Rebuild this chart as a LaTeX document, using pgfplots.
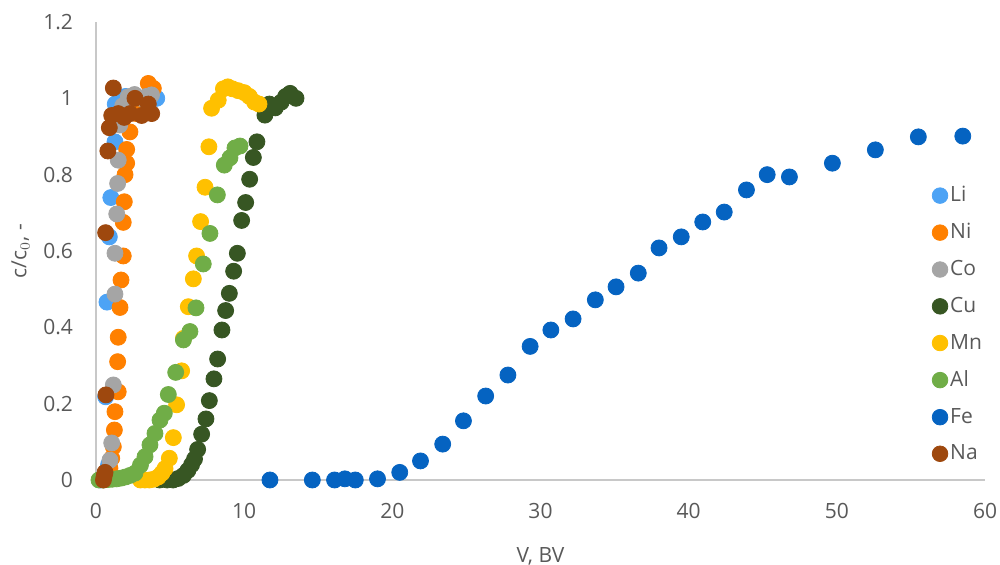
\documentclass[border=0pt]{standalone}
\usepackage{fontspec}
\setmainfont{Open Sans}
\usepackage{pgfplots}
\pgfplotsset{compat=1.18}
\definecolor{cLi}{RGB}{77,163,245}
\definecolor{cNi}{RGB}{255,128,0}
\definecolor{cCo}{RGB}{165,165,165}
\definecolor{cCu}{RGB}{55,86,35}
\definecolor{cMn}{RGB}{255,192,0}
\definecolor{cAl}{RGB}{112,173,71}
\definecolor{cFe}{RGB}{5,99,193}
\definecolor{cNa}{RGB}{158,72,14}
\definecolor{txt}{RGB}{89,89,89}
\definecolor{axl}{RGB}{200,200,200}
\begin{document}
\begin{tikzpicture}
\begin{axis}[
  scale only axis, width=444.5pt, height=229pt,
  xmin=0, xmax=60, ymin=0, ymax=1.2,
  xtick={0,10,...,60}, ytick={0,0.2,0.4,0.6,0.8,1,1.2},
  yticklabels={0,0.2,0.4,0.6,0.8,1,1.2},
  axis lines*=left, axis line style={draw=axl, line width=0.8pt, -},
  major tick length=0pt,
  tick label style={font=\fontsize{10.5}{12}\selectfont, text=txt},
  /pgf/number format/assume math mode=true,
  xticklabel style={yshift=-8pt},
  yticklabel shift=8pt,
  xlabel={V, BV}, ylabel={c/c$_0$, -},
  label style={font=\fontsize{10.5}{12}\selectfont, text=txt},
  xlabel style={yshift=-7.5pt},
  ylabel style={yshift=0pt},
  clip=false,
  every axis plot/.append style={only marks, mark=*, mark size=4pt},
  legend style={draw=none, fill=none, at={(0.933,0.655)}, anchor=north west,
    font=\fontsize{10.5}{12}\selectfont, text=txt, row sep=7.3pt,
    nodes={inner sep=1pt}},
  legend cell align=left,
  legend image code/.code={\fill[#1] (0.2cm,0cm) circle (3.9pt);},
]
\addplot[cLi] coordinates {
(0.3,0)(0.5,0.005)(0.75,0.02)(0.85,0.04)(0.65,0.218)(0.74,0.466)(0.9,0.637)(1.0,0.74)(1.28,0.886)(1.3,0.985)(1.6,1.0)(2.0,1.005)(2.5,1.0)(3.0,1.0)(3.5,1.005)(4.1,1.0)};
\addlegendentry{Li}
\addplot[cNi] coordinates {
(0.5,0.002)(0.8,0.01)(0.94,0.031)(1.06,0.057)(1.17,0.087)(1.24,0.131)(1.28,0.179)(1.5,0.231)(1.46,0.31)(1.5,0.374)(1.62,0.452)(1.69,0.524)(1.84,0.587)(1.84,0.675)(1.91,0.729)(1.96,0.8)(2.07,0.83)(2.07,0.866)(2.29,0.912)(2.7,0.96)(3.2,1.0)(3.53,1.039)(3.87,1.026)};
\addlegendentry{Ni}
\addplot[cCo] coordinates {
(0.5,0)(0.7,0.01)(0.94,0.052)(1.06,0.097)(1.17,0.249)(1.28,0.487)(1.28,0.594)(1.4,0.697)(1.46,0.777)(1.5,0.838)(1.6,0.93)(1.8,0.98)(2.18,1.004)(2.6,1.01)(3.0,1.0)(3.4,1.005)(3.75,1.009)};
\addlegendentry{Co}
\addplot[cCu] coordinates {
(4.3,0)(4.8,0)(5.2,0)(5.55,0.004)(5.9,0.012)(6.2,0.025)(6.45,0.04)(6.65,0.055)(6.86,0.08)(7.13,0.12)(7.42,0.16)(7.65,0.208)(7.96,0.265)(8.21,0.317)(8.5,0.393)(8.75,0.444)(9.0,0.489)(9.29,0.547)(9.54,0.594)(9.83,0.68)(10.1,0.727)(10.37,0.788)(10.62,0.845)(10.86,0.886)(11.4,0.956)(11.7,0.985)(12.1,0.975)(12.5,0.99)(12.8,1.005)(13.1,1.013)(13.5,1.0)};
\addlegendentry{Cu}
\addplot[cMn] coordinates {
(3.0,0)(3.3,0)(3.6,0)(3.9,0.002)(4.2,0.008)(4.45,0.018)(4.66,0.03)(4.95,0.057)(5.22,0.111)(5.44,0.197)(5.78,0.286)(5.9,0.371)(6.23,0.454)(6.57,0.527)(6.79,0.587)(7.06,0.677)(7.36,0.767)(7.62,0.873)(7.8,0.974)(8.25,0.995)(8.6,1.025)(8.9,1.03)(9.2,1.025)(9.6,1.02)(10.0,1.015)(10.35,1.005)(10.7,0.99)(11.0,0.985)};
\addlegendentry{Mn}
\addplot[cAl] coordinates {
(0.2,0)(0.5,0)(0.8,0.001)(1.1,0.002)(1.4,0.003)(1.7,0.005)(2.0,0.008)(2.3,0.012)(2.63,0.018)(3.0,0.039)(3.31,0.061)(3.64,0.092)(3.98,0.122)(4.32,0.157)(4.61,0.175)(4.88,0.224)(5.38,0.282)(5.9,0.367)(6.34,0.389)(6.75,0.451)(7.24,0.566)(7.69,0.646)(8.19,0.747)(8.66,0.825)(9.04,0.844)(9.38,0.87)(9.72,0.875)};
\addlegendentry{Al}
\addplot[cFe] coordinates {
(11.74,0)(14.6,0)(16.1,0)(16.8,0.003)(17.5,0)(19.0,0.003)(20.5,0.02)(21.9,0.05)(23.4,0.094)(24.8,0.155)(26.3,0.22)(27.8,0.275)(29.3,0.35)(30.7,0.393)(32.2,0.422)(33.7,0.472)(35.1,0.506)(36.6,0.542)(38.0,0.608)(39.5,0.637)(40.95,0.676)(42.4,0.702)(43.9,0.76)(45.3,0.8)(46.8,0.794)(49.7,0.83)(52.6,0.865)(55.5,0.899)(58.5,0.901)};
\addlegendentry{Fe}
\addplot[cNa] coordinates {
(0.5,0)(0.55,0.01)(0.61,0.02)(0.67,0.223)(0.65,0.648)(0.8,0.862)(0.9,0.923)(1.06,0.955)(1.17,1.027)(1.5,0.96)(1.9,0.95)(2.3,0.96)(2.63,1.0)(3.08,0.955)(3.53,0.985)(3.76,0.96)};
\addlegendentry{Na}
\end{axis}
\pgfresetboundingbox
\path (current axis.south west) ++(-48pt,-42.5pt) coordinate (bl);
\path (current axis.north east) ++(7.5pt,11pt) coordinate (tr);
\path[use as bounding box] (bl) rectangle (tr);
\end{tikzpicture}
\end{document}
